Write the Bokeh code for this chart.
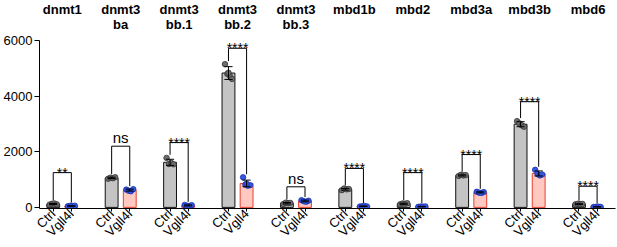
import math
from bokeh.plotting import figure
from bokeh.layouts import column
from bokeh.models import Range1d, FixedTicker
from bokeh.core.properties import value
from bokeh.embed import file_html
from bokeh.resources import INLINE

# ---------------- data ----------------
title_line1 = ["dnmt1", "dnmt3", "dnmt3", "dnmt3", "dnmt3", "mbd1b", "mbd2", "mbd3a", "mbd3b", "mbd6"]
title_line2 = ["", "ba", "bb.1", "bb.2", "bb.3", "", "", "", "", ""]
ctrl_labels = ["Ctrl"] * 10
vgll_labels = ["Vgll4l", "Vgll4l", "Vgll4l", "Vgll4", "Vgll4l", "Vgll4l", "Vgll4l", "Vgll4l", "Vgll4l", "Vgll4l"]

ctrl_mean = [120, 1060, 1620, 4830, 150, 650, 130, 1150, 2990, 120]
ctrl_sd = [20, 25, 110, 230, 25, 30, 20, 20, 90, 10]
vgll_mean = [50, 620, 70, 860, 230, 40, 28, 540, 1220, 20]
vgll_sd = [10, 35, 20, 120, 30, 10, 8, 20, 90, 5]

ctrl_pts = [
    [100, 130, 140, 110],
    [1030, 1070, 1050, 1085],
    [1780, 1560, 1600, 1550],
    [5150, 4800, 4740, 4620, 4840],
    [120, 170, 150, 160],
    [620, 680, 650, 660],
    [110, 140, 130, 150],
    [1130, 1170, 1150, 1160],
    [3100, 3020, 2950, 2900],
    [110, 130, 120, 125],
]
vgll_pts = [
    [40, 55, 50, 60],
    [640, 600, 580, 655],
    [90, 60, 50, 80],
    [1080, 820, 780, 800, 850],
    [260, 220, 200, 240],
    [30, 40, 50, 35],
    [20, 30, 25, 35],
    [560, 530, 520, 550],
    [1350, 1200, 1150, 1180],
    [15, 20, 25, 18],
]

sig_labels = ["**", "ns", "****", "****", "ns", "****", "****", "****", "****", "****"]
bracket_top = [1250, 2200, 2330, 5720, 740, 1400, 1250, 1900, 3800, 760]

y_ticks = [0, 2000, 4000, 6000]

# ---------------- style ----------------
FONT = "Liberation Sans"
OFF = 0.155
BAR_W = 0.22
CAP = 0.07
JIT = [-0.06, -0.02, 0.02, 0.06, 0.0]
Y0, Y1 = -40, 6000
TOP_H = 32
W = 617
XR = Range1d(-0.39, 9.47)

n = len(ctrl_mean)

# ---------- title strip ----------
t = figure(width=W, height=TOP_H, output_backend="svg", toolbar_location=None,
           x_range=XR, y_range=Range1d(0, TOP_H),
           min_border_left=38, min_border_right=2, min_border_top=0, min_border_bottom=0)
t.axis.visible = False
t.grid.visible = False
t.outline_line_color = None
t.background_fill_color = "white"
t.border_fill_color = "white"
t.text(x=list(range(n)), y=[TOP_H - 9] * n, text=title_line1, text_align="center",
       text_baseline="middle", text_font=value(FONT), text_font_size="13px",
       text_font_style="bold", text_color="black")
i2 = [i for i in range(n) if title_line2[i]]
t.text(x=i2, y=[TOP_H - 24] * len(i2), text=[title_line2[i] for i in i2], text_align="center",
       text_baseline="middle", text_font=value(FONT), text_font_size="13px",
       text_font_style="bold", text_color="black")

# ---------- main plot ----------
p = figure(width=W, height=247 - TOP_H, output_backend="svg", toolbar_location=None,
           x_range=XR, y_range=Range1d(Y0, Y1),
           min_border_left=38, min_border_right=2, min_border_top=8, min_border_bottom=39)
p.xgrid.visible = False
p.ygrid.visible = False
p.outline_line_color = None
p.background_fill_color = "white"
p.border_fill_color = "white"

xc = [i - OFF for i in range(n)]
xv = [i + OFF for i in range(n)]

p.vbar(x=xc, top=ctrl_mean, bottom=0, width=BAR_W, fill_color="#c4c4c4",
       line_color="#111111", line_width=1)
p.vbar(x=xv, top=vgll_mean, bottom=0, width=BAR_W, fill_color="#ffc9c2",
       line_color="#e8402f", line_width=1)

# points
pcx, pcy, pvx, pvy = [], [], [], []
for i in range(n):
    for j, v in enumerate(ctrl_pts[i]):
        pcx.append(xc[i] + JIT[j]); pcy.append(v)
    for j, v in enumerate(vgll_pts[i]):
        pvx.append(xv[i] + JIT[j]); pvy.append(v)
p.scatter(pcx, pcy, size=5.5, fill_color="#6e6e6e", line_color="#333333", line_width=0.8)
p.scatter(pvx, pvy, size=5.5, fill_color="#3557e0", line_color="#1c32b0", line_width=0.8)

# error bars
for xs, m, s in ((xc, ctrl_mean, ctrl_sd), (xv, vgll_mean, vgll_sd)):
    lo = [a - b for a, b in zip(m, s)]
    hi = [a + b for a, b in zip(m, s)]
    p.segment(xs, lo, xs, hi, line_color="black", line_width=1)
    p.segment([x - CAP for x in xs], hi, [x + CAP for x in xs], hi, line_color="black", line_width=1)
    p.segment([x - CAP for x in xs], lo, [x + CAP for x in xs], lo, line_color="black", line_width=1)

# brackets
GAP = 110
lx0, ly0, lx1, ly1 = [], [], [], []
for i in range(n):
    lb = max(ctrl_pts[i]) + GAP
    rb = max(vgll_pts[i]) + GAP
    lx0 += [xc[i], xc[i], xv[i]]
    ly0 += [lb, bracket_top[i], bracket_top[i]]
    lx1 += [xc[i], xv[i], xv[i]]
    ly1 += [bracket_top[i], bracket_top[i], rb]
p.segment(lx0, ly0, lx1, ly1, line_color="black", line_width=1)

# significance text
ia = [i for i in range(n) if sig_labels[i] != "ns"]
p.text(x=ia, y=[bracket_top[i] for i in ia], text=[sig_labels[i] for i in ia],
       text_align="center", text_baseline="middle",
       text_font=value(FONT), text_font_size="14px", text_color="black")
ins = [i for i in range(n) if sig_labels[i] == "ns"]
p.text(x=ins, y=[bracket_top[i] for i in ins], text=[sig_labels[i] for i in ins],
       text_align="center", text_baseline="bottom",
       text_font=value(FONT), text_font_size="15px", text_color="black")

# axes
ticks = []
overrides = {}
for i in range(n):
    ticks += [xc[i], xv[i]]
    overrides[xc[i]] = ctrl_labels[i]
    overrides[xv[i]] = vgll_labels[i]
xa = p.xaxis[0]
xa.ticker = FixedTicker(ticks=ticks)
xa.major_label_overrides = overrides
xa.major_label_orientation = math.pi / 4
xa.minor_tick_line_color = None
xa.major_tick_in = 0
xa.major_tick_out = 3
xa.major_label_standoff = 0
xa.axis_line_color = "black"
xa.major_tick_line_color = "black"
xa.major_label_text_font = FONT
xa.major_label_text_font_size = "13px"
xa.major_label_text_color = "black"

ya = p.yaxis[0]
ya.ticker = FixedTicker(ticks=y_ticks)
ya.minor_tick_line_color = None
ya.major_tick_in = 0
ya.major_tick_out = 5
ya.major_label_standoff = 2
ya.axis_line_color = "black"
ya.major_tick_line_color = "black"
ya.major_label_text_font = FONT
ya.major_label_text_font_size = "13px"
ya.major_label_text_color = "black"

layout = column(t, p, spacing=0)
open("out.html", "w").write(file_html(layout, INLINE))
